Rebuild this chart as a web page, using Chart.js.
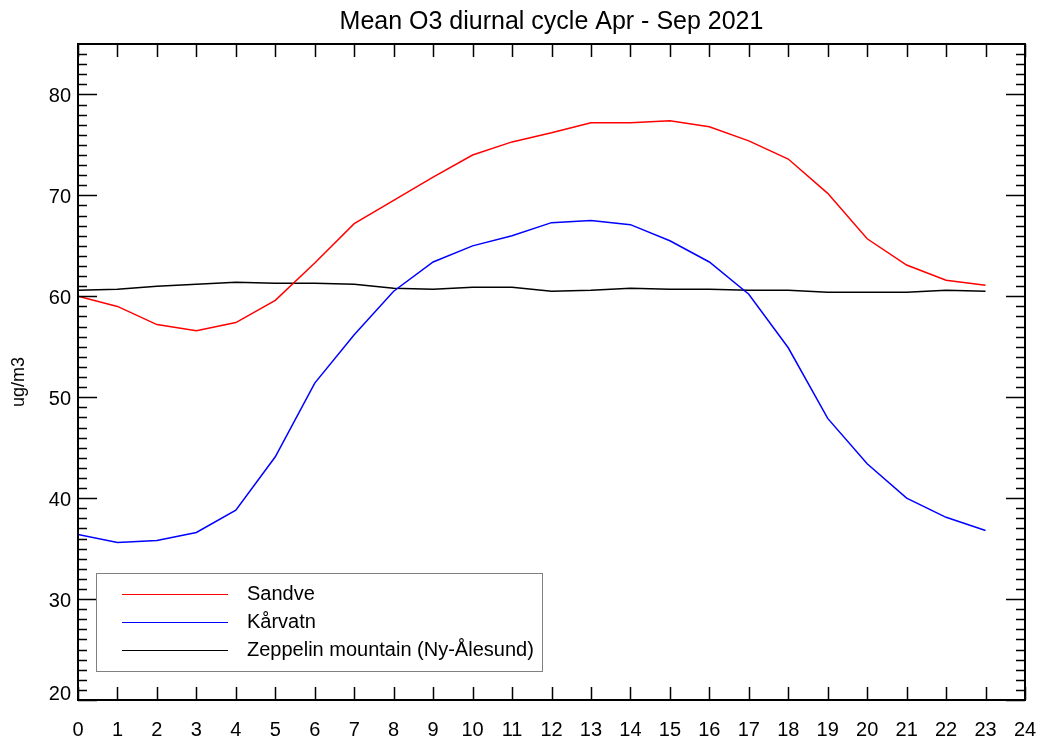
<!DOCTYPE html>
<html>
<head>
<meta charset="utf-8">
<title>Mean O3 diurnal cycle</title>
<script src="https://cdn.jsdelivr.net/npm/chart.js@4.4.1/dist/chart.umd.min.js"></script>
<style>
  html, body { margin: 0; padding: 0; background: #fff; }
  #wrap { width: 1038px; height: 738px; }
</style>
</head>
<body>
<div id="wrap"><canvas id="grafica" width="1038" height="738"></canvas></div>
<script>
// horas del ciclo diurno
const horas = [0,1,2,3,4,5,6,7,8,9,10,11,12,13,14,15,16,17,18,19,20,21,22,23];

// valores medios de O3 (ug/m3)
const sandve = [60.0,59.0,57.2,56.6,57.4,59.6,63.3,67.2,69.5,71.8,74.0,75.3,76.2,77.2,77.2,77.4,76.8,75.4,73.6,70.2,65.7,63.1,61.6,61.1];
const karvatn = [36.4,35.6,35.8,36.6,38.8,44.1,51.4,56.2,60.5,63.4,65.0,66.0,67.3,67.5,67.1,65.5,63.4,60.2,54.9,47.9,43.4,40.0,38.1,36.8];
const zeppelin = [60.6,60.7,61.0,61.2,61.4,61.3,61.3,61.2,60.8,60.7,60.9,60.9,60.5,60.6,60.8,60.7,60.7,60.6,60.6,60.4,60.4,60.4,60.6,60.5];

const nombres = ["Sandve", "Kårvatn", "Zeppelin mountain (Ny-Ålesund)"];
const colores = ["#ff0000", "#0000ff", "#000000"];

// marcas de los ejes
const xTicks = [0,1,2,3,4,5,6,7,8,9,10,11,12,13,14,15,16,17,18,19,20,21,22,23,24];
const yTicks = [20,30,40,50,60,70,80];
const yMinor = [21,22,23,24,25,26,27,28,29,31,32,33,34,35,36,37,38,39,41,42,43,44,45,46,47,48,49,51,52,53,54,55,56,57,58,59,61,62,63,64,65,66,67,68,69,71,72,73,74,75,76,77,78,79,81,82,83,84];

const titulo = "Mean O3 diurnal cycle Apr - Sep 2021";
const etiquetaY = "ug/m3";

const FUENTE = '"Liberation Sans", Arial, sans-serif';

// Dibuja marco, marcas, textos y leyenda estilo IDL
const marcoPlugin = {
    id: "marco",
    afterDraw(chart) {
        const c = chart.ctx;
        const a = chart.chartArea;
        const x = chart.scales.x;
        const y = chart.scales.y;
        c.save();

        // marcas
        c.strokeStyle = "#000";
        c.lineWidth = 1.5;
        c.beginPath();
        xTicks.forEach(v => {
            const px = Math.round(x.getPixelForValue(v)) + 0.5;
            c.moveTo(px, a.bottom); c.lineTo(px, a.bottom - 13);
            c.moveTo(px, a.top); c.lineTo(px, a.top + 13);
        });
        yTicks.forEach(v => {
            const py = Math.round(y.getPixelForValue(v)) + 0.5;
            c.moveTo(a.left, py); c.lineTo(a.left + 19, py);
            c.moveTo(a.right, py); c.lineTo(a.right - 19, py);
        });
        yMinor.forEach(v => {
            const py = Math.round(y.getPixelForValue(v)) + 0.5;
            c.moveTo(a.left, py); c.lineTo(a.left + 9, py);
            c.moveTo(a.right, py); c.lineTo(a.right - 9, py);
        });
        c.stroke();

        // marco
        c.lineWidth = 2;
        c.strokeRect(a.left, a.top, a.right - a.left, a.bottom - a.top);

        // etiquetas de los ejes
        c.fillStyle = "#000";
        c.font = "20px " + FUENTE;
        c.textAlign = "center";
        c.textBaseline = "alphabetic";
        xTicks.forEach(v => {
            c.fillText(String(v), x.getPixelForValue(v), 736);
        });
        c.textAlign = "right";
        c.textBaseline = "middle";
        yTicks.forEach(v => {
            const py = Math.min(y.getPixelForValue(v), a.bottom - 8) + 2;
            c.fillText(String(v), a.left - 7, py);
        });

        // titulo
        c.font = "25px " + FUENTE;
        c.textAlign = "center";
        c.textBaseline = "middle";
        c.fillText(titulo, (a.left + a.right) / 2, 22);

        // etiqueta eje Y
        c.font = "18px " + FUENTE;
        c.translate(19, (a.top + a.bottom) / 2 + 10);
        c.rotate(-Math.PI / 2);
        c.fillText(etiquetaY, 0, 0);
        c.setTransform(1, 0, 0, 1, 0, 0);

        // leyenda
        c.strokeStyle = "#808080";
        c.lineWidth = 1;
        c.strokeRect(96.5, 573.5, 446, 98);
        c.font = "20px " + FUENTE;
        c.textAlign = "left";
        c.textBaseline = "middle";
        chart.data.datasets.forEach((ds, i) => {
            const ly = 594.5 + i * 28;
            c.strokeStyle = ds.borderColor;
            c.beginPath();
            c.moveTo(122, ly); c.lineTo(228, ly);
            c.stroke();
            c.fillStyle = "#000";
            c.fillText(ds.label, 247, ly);
        });
        c.restore();
    }
};

const ctx = document.getElementById("grafica");

new Chart(ctx, {
    type: "line",
    data: {
        labels: horas,
        datasets: nombres.map((n, i) => ({
            label: n,
            data: [sandve, karvatn, zeppelin][i].map((v, k) => ({ x: horas[k], y: v })),
            borderColor: colores[i],
            borderWidth: 1.5,
            pointRadius: 0,
            tension: 0,
            fill: false
        }))
    },
    options: {
        responsive: false,
        animation: false,
        layout: { padding: { left: 78, top: 44, right: 13, bottom: 38 } },
        plugins: {
            legend: { display: false },
            title: { display: false },
            tooltip: { enabled: false }
        },
        scales: {
            x: { type: "linear", min: 0, max: 24, display: false },
            y: { type: "linear", min: 20, max: 85, display: false }
        }
    },
    plugins: [marcoPlugin]
});
</script>
</body>
</html>
